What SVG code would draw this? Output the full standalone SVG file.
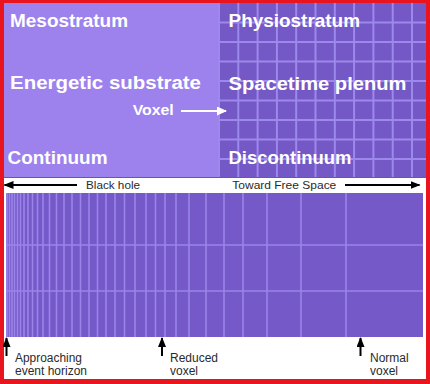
<svg xmlns="http://www.w3.org/2000/svg" width="430" height="384" viewBox="0 0 430 384">
  <defs>
    <style>
      .big { font-family: "Liberation Sans", Arial, sans-serif; font-weight: bold; fill: #ffffff; font-size: 18px; }
      .small { font-family: "Liberation Sans", Arial, sans-serif; fill: #2a2a2a; font-size: 11.5px; }
      .grid { stroke: #9D88EC; stroke-width: 2; fill: none; }
      .band { stroke: #9A84EA; stroke-width: 1.6; fill: none; }
      .arr { stroke: #000000; stroke-width: 2; fill: none; }
    </style>
    <marker id="headBlack" markerUnits="userSpaceOnUse" markerWidth="10" markerHeight="8" refX="9" refY="4" orient="auto">
      <path d="M0,0 L10,4 L0,8 Z" fill="#000000"/>
    </marker>
    <marker id="headWhite" markerUnits="userSpaceOnUse" markerWidth="10" markerHeight="9" refX="9" refY="4.5" orient="auto">
      <path d="M0,0 L10,4.5 L0,9 Z" fill="#ffffff"/>
    </marker>
  </defs>

  <!-- frame -->
  <rect x="0" y="0" width="430" height="384" fill="#E8141E"/>
  <rect x="4" y="3" width="422" height="376" fill="#ffffff"/>

  <!-- top left panel -->
  <g id="continuum-panel">
    <rect x="4" y="3" width="215" height="175" fill="#9D82EE"/>
    <text class="big" x="10" y="27" textLength="118" lengthAdjust="spacingAndGlyphs">Mesostratum</text>
    <text class="big" x="10" y="88.5" textLength="191" lengthAdjust="spacingAndGlyphs">Energetic substrate</text>
    <text class="big" x="7.5" y="163.5" textLength="100" lengthAdjust="spacingAndGlyphs">Continuum</text>
  </g>

  <!-- top right panel -->
  <g id="discontinuum-panel">
    <rect x="219" y="3" width="207" height="175" fill="#7458C6"/>
    <g class="grid">
      <line x1="219" y1="3" x2="219" y2="178"/>
      <line x1="238.3" y1="3" x2="238.3" y2="178"/>
      <line x1="257.6" y1="3" x2="257.6" y2="178"/>
      <line x1="276.9" y1="3" x2="276.9" y2="178"/>
      <line x1="296.2" y1="3" x2="296.2" y2="178"/>
      <line x1="315.5" y1="3" x2="315.5" y2="178"/>
      <line x1="334.8" y1="3" x2="334.8" y2="178"/>
      <line x1="354.1" y1="3" x2="354.1" y2="178"/>
      <line x1="373.4" y1="3" x2="373.4" y2="178"/>
      <line x1="392.7" y1="3" x2="392.7" y2="178"/>
      <line x1="412" y1="3" x2="412" y2="178"/>
      <line x1="219" y1="22.5" x2="426" y2="22.5"/>
      <line x1="219" y1="42" x2="426" y2="42"/>
      <line x1="219" y1="61.5" x2="426" y2="61.5"/>
      <line x1="219" y1="81" x2="426" y2="81"/>
      <line x1="219" y1="100.5" x2="426" y2="100.5"/>
      <line x1="219" y1="120" x2="426" y2="120"/>
      <line x1="219" y1="139.5" x2="426" y2="139.5"/>
      <line x1="219" y1="159" x2="426" y2="159"/>
    </g>
    <text class="big" x="228.5" y="27" textLength="131.5" lengthAdjust="spacingAndGlyphs">Physiostratum</text>
    <text class="big" x="228.5" y="89.5" textLength="178" lengthAdjust="spacingAndGlyphs">Spacetime plenum</text>
    <text class="big" x="228.5" y="163.5" textLength="123" lengthAdjust="spacingAndGlyphs">Discontinuum</text>
  </g>
  <line x1="4" y1="177.5" x2="426" y2="177.5" stroke="#6A55A8" stroke-width="1"/>

  <!-- voxel label -->
  <g id="voxel">
    <text class="big" x="132.7" y="115" style="font-size:14px" textLength="41" lengthAdjust="spacingAndGlyphs">Voxel</text>
  </g>

  <!-- bottom band -->
  <g id="gradient-band">
    <rect x="6" y="193" width="417" height="144" fill="#7659C8"/>
    <g class="band">
      <line x1="7" y1="193" x2="7" y2="337"/>
      <line x1="9.5" y1="193" x2="9.5" y2="337"/>
      <line x1="12" y1="193" x2="12" y2="337"/>
      <line x1="14.5" y1="193" x2="14.5" y2="337"/>
      <line x1="17.5" y1="193" x2="17.5" y2="337"/>
      <line x1="20.5" y1="193" x2="20.5" y2="337"/>
      <line x1="24" y1="193" x2="24" y2="337"/>
      <line x1="28" y1="193" x2="28" y2="337"/>
      <line x1="32.5" y1="193" x2="32.5" y2="337"/>
      <line x1="37.5" y1="193" x2="37.5" y2="337"/>
      <line x1="43" y1="193" x2="43" y2="337"/>
      <line x1="49.5" y1="193" x2="49.5" y2="337"/>
      <line x1="56.5" y1="193" x2="56.5" y2="337"/>
      <line x1="64" y1="193" x2="64" y2="337"/>
      <line x1="72" y1="193" x2="72" y2="337"/>
      <line x1="80.5" y1="193" x2="80.5" y2="337"/>
      <line x1="89" y1="193" x2="89" y2="337"/>
      <line x1="97.5" y1="193" x2="97.5" y2="337"/>
      <line x1="106" y1="193" x2="106" y2="337"/>
      <line x1="115" y1="193" x2="115" y2="337"/>
      <line x1="124.5" y1="193" x2="124.5" y2="337"/>
      <line x1="135" y1="193" x2="135" y2="337"/>
      <line x1="146" y1="193" x2="146" y2="337"/>
      <line x1="155.5" y1="193" x2="155.5" y2="337"/>
      <line x1="165" y1="193" x2="165" y2="337"/>
      <line x1="176" y1="193" x2="176" y2="337"/>
      <line x1="189" y1="193" x2="189" y2="337"/>
      <line x1="206" y1="193" x2="206" y2="337"/>
      <line x1="224" y1="193" x2="224" y2="337"/>
      <line x1="243" y1="193" x2="243" y2="337"/>
      <line x1="267" y1="193" x2="267" y2="337"/>
      <line x1="301" y1="193" x2="301" y2="337"/>
      <line x1="346" y1="193" x2="346" y2="337"/>
      <line x1="6" y1="245" x2="423" y2="245"/>
      <line x1="6" y1="291" x2="423" y2="291"/>
    </g>
  </g>

  <!-- direction labels -->
  <g id="black-hole">
    <text class="small" x="86" y="188.5" textLength="54" lengthAdjust="spacingAndGlyphs">Black hole</text>
  </g>
  <g id="free-space">
    <text class="small" x="232.3" y="189" textLength="104" lengthAdjust="spacingAndGlyphs">Toward Free Space</text>
  </g>

  <!-- bottom labels -->
  <g id="event-horizon">
    <text class="small" x="15" y="362" style="font-size:12px" textLength="67" lengthAdjust="spacingAndGlyphs">Approaching</text>
    <text class="small" x="15" y="374.5" style="font-size:12px">event horizon</text>
  </g>
  <g id="reduced-voxel">
    <text class="small" x="170" y="362" style="font-size:12px">Reduced</text>
    <text class="small" x="170" y="374.5" style="font-size:12px">voxel</text>
  </g>
  <g id="normal-voxel">
    <text class="small" x="370" y="362" style="font-size:12px">Normal</text>
    <text class="small" x="370" y="374.5" style="font-size:12px">voxel</text>
  </g>

  <!-- connectors -->
  <g id="connectors">
    <line x1="181" y1="111" x2="226" y2="111" stroke="#ffffff" stroke-width="2" marker-end="url(#headWhite)"/>
    <line class="arr" x1="77" y1="185" x2="4.5" y2="185" marker-end="url(#headBlack)"/>
    <line class="arr" x1="345" y1="185" x2="419.5" y2="185" marker-end="url(#headBlack)"/>
    <line class="arr" x1="6.5" y1="356" x2="6.5" y2="338" marker-end="url(#headBlack)"/>
    <line class="arr" x1="162" y1="356" x2="162" y2="338" marker-end="url(#headBlack)"/>
    <line class="arr" x1="360.5" y1="356" x2="360.5" y2="338" marker-end="url(#headBlack)"/>
  </g>
</svg>
